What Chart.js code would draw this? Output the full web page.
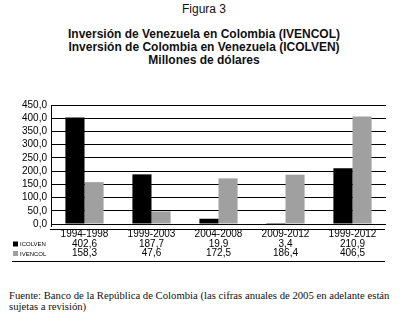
<!DOCTYPE html>
<html>
<head>
<meta charset="utf-8">
<script src="https://cdn.jsdelivr.net/npm/chart.js@4.4.1/dist/chart.umd.min.js"></script>
<style>
  html, body { margin: 0; padding: 0; background: #fff; }
  body { width: 408px; height: 313px; position: relative; overflow: hidden; font-family: "Liberation Sans", Arial, sans-serif; }
  .fig { position: absolute; top: 2px; left: 0; width: 408px; text-align: center; font-size: 12px; color: #111; }
  .titles { position: absolute; top: 28px; left: 0; width: 408px; text-align: center; font-size: 12px; font-weight: bold; line-height: 13px; color: #111; }
  .wrap { position: absolute; left: 0; top: 95px; width: 408px; height: 175px; }
  .note { position: absolute; left: 9px; top: 290px; white-space: nowrap; font-family: "Liberation Serif", "Times New Roman", serif; font-size: 10.7px; line-height: 11px; color: #111; }
</style>
</head>
<body>
<div class="fig">Figura 3</div>
<div class="titles">Inversión de Venezuela en Colombia (IVENCOL)<br>Inversión de Colombia en Venezuela (ICOLVEN)<br>Millones de dólares</div>
<div class="wrap"><canvas id="chart" width="408" height="175"></canvas></div>
<div class="note">Fuente: Banco de la República de Colombia (las cifras anuales de 2005 en adelante están<br>sujetas a revisión)</div>
<script>
const periods = ['1994-1998', '1999-2003', '2004-2008', '2009-2012', '1999-2012'];
const icolven = [402.6, 187.7, 19.9, 3.4, 210.9];
const ivencol = [158.3, 47.6, 172.5, 186.4, 406.5];

const fmt = v => v.toFixed(1).replace('.', ',');

// data table under the plot: period, then one row per series
const tablePlugin = {
    id: 'dataTable',
    afterDraw(chart) {
        const ctx = chart.ctx;
        const area = chart.chartArea;
        const xs = chart.scales.x;
        ctx.save();
        ctx.strokeStyle = '#000';
        ctx.lineWidth = 1;
        ctx.beginPath();
        ctx.moveTo(area.left - 1, area.bottom + 5.5);
        ctx.lineTo(area.right - 1, area.bottom + 5.5);
        ctx.moveTo(12, area.bottom + 37.5);
        ctx.lineTo(area.right - 1, area.bottom + 37.5);
        ctx.moveTo(area.left + 0.5, area.bottom);
        ctx.lineTo(area.left + 0.5, area.bottom + 3);
        ctx.stroke();

        ctx.fillStyle = '#000';
        ctx.font = '10px "Liberation Sans", Arial, sans-serif';
        ctx.textAlign = 'center';
        ctx.textBaseline = 'middle';
        const rowY = [area.bottom + 10, area.bottom + 20, area.bottom + 29.5];
        periods.forEach((p, i) => {
            const x = xs.getPixelForValue(i);
            ctx.fillText(p, x, rowY[0]);
            chart.data.datasets.forEach((ds, j) => {
                ctx.fillText(fmt(ds.data[i]), x, rowY[j + 1]);
            });
        });

        // series keys at the left of the rows
        ctx.textAlign = 'left';
        ctx.font = '6px "Liberation Sans", Arial, sans-serif';
        chart.data.datasets.forEach((ds, j) => {
            const y = rowY[j + 1];
            ctx.fillStyle = ds.backgroundColor;
            ctx.fillRect(13, y - 2.5, 5, 5);
            ctx.fillStyle = '#000';
            ctx.fillText(ds.label, 20, y + 0.5);
        });
        ctx.restore();
    }
};

new Chart(document.getElementById('chart').getContext('2d'), {
    type: 'bar',
    data: {
        labels: periods,
        datasets: [
            { label: 'ICOLVEN', data: icolven, backgroundColor: '#000000', categoryPercentage: 0.57, barPercentage: 1.0 },
            { label: 'IVENCOL', data: ivencol, backgroundColor: '#a0a0a0', categoryPercentage: 0.57, barPercentage: 1.0 }
        ]
    },
    options: {
        responsive: false,
        animation: false,
        layout: { padding: { left: 0, right: 22, top: 10, bottom: 0 } },
        plugins: {
            legend: { display: false },
            tooltip: { enabled: false }
        },
        scales: {
            x: {
                grid: { display: false },
                border: { display: false },
                ticks: { display: false },
                afterFit: s => { s.height = 46; }
            },
            y: {
                min: 0,
                max: 450,
                ticks: {
                    stepSize: 50,
                    autoSkip: false,
                    color: '#000',
                    padding: 4,
                    font: { size: 10, family: '"Liberation Sans", Arial, sans-serif' },
                    callback: v => fmt(v)
                },
                grid: { color: '#000', lineWidth: 1, drawTicks: false },
                border: { display: true, color: '#000', width: 1 },
                afterFit: s => { s.width = 51; }
            }
        }
    },
    plugins: [tablePlugin]
});
</script>
</body>
</html>
